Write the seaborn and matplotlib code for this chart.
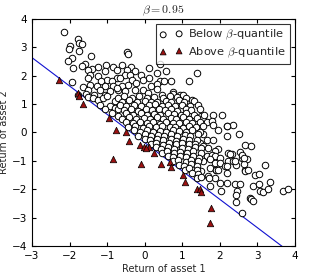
import matplotlib
matplotlib.use("Agg")
import matplotlib.pyplot as plt
import seaborn as sns
import numpy as np
import pandas as pd

# ---- data ----
below_x = [
    -2.14, -1.78, -1.74, -1.66, -2.00, -2.02, -1.76, -0.46, -0.44, -1.42,
    -1.94, -2.05, -1.59, -1.03, -0.61, 0.42, -1.90, -1.68, -1.24, -0.85,
    -0.37, -1.41, 0.11, -1.50, -1.06, -0.75, -0.48, -0.26, 0.33, 0.56,
    1.38, -1.46, -1.24, -1.50, -0.75, -0.53, -0.39, -0.10, -0.66, 0.11,
    -1.94, -1.00, -1.15, -0.88, -0.35, -0.04, 0.40, 0.52, 0.70, 1.18,
    -1.64, -1.46, -1.28, -1.06, -0.84, -0.22, -0.44, -0.61, 0.18, 0.33,
    -1.50, -1.19, -0.93, -0.70, -0.75, -0.26, -0.04, -0.53, 0.34, 0.74,
    -1.77, -1.56, -1.34, -1.06, 0.09, 0.45, 0.76, 0.94, 1.02,
    -1.50, -1.37, -1.24, -1.10, -1.01, -0.79, -0.70, 1.25,
    -1.19, -0.93, -0.79, -1.06, -0.70, -0.88, -0.70,
    1.51, 1.56, 1.58, 1.82, 2.07, 1.66, 1.78, 1.82, 2.20, 2.35, 2.19, 1.96,
    2.51, 2.18, 1.56, 1.65, 1.81, 1.47, 1.56, 1.69, 1.96, 1.87, 2.22, 2.31,
    2.66, 2.82, 2.53, 1.65, 1.78, 1.87, 2.00, 1.73, 1.56, 1.87, 2.00, 2.22,
    2.35, 2.58, 2.60, 2.71, 2.43, 2.13, 1.73, 1.91, 3.20, 1.51, 2.68,
    1.89, 2.18, 2.66, 2.93, 3.05, 1.69, 1.87, 2.00, 2.18, 1.73, 2.04, 2.40,
    2.53, 2.46, 2.44, 2.89, 3.05, 3.33, 3.06, 3.15, 3.29, 2.80, 2.84, 2.89,
    2.43, 2.58, 3.68, 3.82, 2.75, 1.72, 1.96, 2.18, 2.40, 2.65, 2.28, 2.65,
    # dense core
    -0.55, -0.33, -0.16, 0.06, 0.24, 0.49, 0.66, 0.86, 1.10,
    -0.61, -0.41, -0.21, 0.01, 0.16, 0.34, 0.56, 0.71, 0.91, 1.04, 1.31,
    -0.66, -0.49, -0.29, -0.11, 0.11, 0.27, 0.46, 0.61, 0.81, 0.99, 1.21, 1.41,
    -0.56, -0.37, -0.19, 0.03, 0.19, 0.39, 0.54, 0.71, 0.87, 1.09, 1.24, 1.46,
    -0.49, -0.31, -0.11, 0.07, 0.26, 0.41, 0.61, 0.77, 0.96, 1.11, 1.31,
    -0.61, -0.41, -0.23, -0.01, 0.14, 0.33, 0.49, 0.69, 0.84, 1.03, 1.19, 1.39,
    -0.51, -0.31, -0.13, 0.06, 0.21, 0.41, 0.57, 0.76, 0.91, 1.11, 1.27, 1.46,
    -0.44, -0.26, -0.04, 0.11, 0.31, 0.47, 0.66, 0.81, 1.01, 1.17, 1.36, 1.54,
    -0.29, -0.13, 0.06, 0.21, 0.41, 0.57, 0.76, 0.91, 1.11, 1.27, 1.46,
    -0.17, 0.01, 0.17, 0.36, 0.51, 0.71, 0.87, 1.06, 1.21, 1.41,
    0.01, 0.14, 0.33, 0.49, 0.69, 0.84, 1.03, 1.19, 1.39,
    0.16, 0.29, 0.49, 0.64, 0.83, 0.99, 1.19, 1.34,
    0.31, 0.44, 0.63, 0.79, 0.99, 1.14, 1.33, 1.49,
    0.46, 0.59, 0.79, 0.94, 1.13, 1.29, 1.49,
    0.61, 0.74, 0.93, 1.09, 1.29, 1.44,
    0.76, 0.89, 1.09, 1.24, 1.43,
    0.91, 1.04, 1.23, 1.39,
    1.06, 1.19, 1.39,
    1.26, 1.41,
    1.38, 1.50,
]
below_y = [
    3.53, 3.30, 3.17, 3.12, 3.05, 2.95, 2.88, 2.84, 2.77, 2.68,
    2.63, 2.53, 2.43, 2.39, 2.39, 2.40, 2.27, 2.33, 2.30, 2.30,
    2.30, 2.25, 2.27, 2.22, 2.16, 2.22, 2.22, 2.16, 2.10, 2.16,
    2.09, 2.04, 1.98, 1.92, 1.92, 2.04, 2.04, 2.04, 1.92, 1.92,
    1.79, 1.86, 1.80, 1.80, 1.86, 1.86, 1.81, 1.81, 1.81, 1.83,
    1.62, 1.69, 1.63, 1.63, 1.63, 1.75, 1.69, 1.63, 1.63, 1.72,
    1.48, 1.51, 1.45, 1.51, 1.57, 1.51, 1.51, 1.45, 1.55, 1.44,
    1.33, 1.35, 1.33, 1.31, 1.39, 1.33, 1.36, 1.31, 1.32,
    1.25, 1.22, 1.16, 1.22, 1.28, 1.10, 1.22, 1.15,
    0.98, 0.93, 0.87, 0.81, 0.81, 0.69, 0.57,
    0.57, 0.51, 0.60, 0.62, 0.63, 0.36, 0.40, 0.28, 0.22, 0.26, 0.24, 0.10,
    -0.05, -0.13, -0.07, -0.25, -0.25, -0.37, -0.48, -0.54, -0.60, -0.66, -0.74, -0.75,
    -0.43, -0.48, -0.69, -0.84, -0.78, -0.84, -0.89, -0.95, -1.01, -1.07, -1.07, -1.01,
    -1.01, -0.89, -0.81, -0.95, -1.13, -1.19, -1.25, -1.31, -1.13, -1.37, -1.33,
    -1.31, -1.42, -1.37, -1.50, -1.48, -1.54, -1.60, -1.77, -1.77, -1.89, -2.07, -1.83,
    -1.83, -2.07, -2.19, -1.89, -1.83, -1.74, -2.07, -2.09, -2.01, -2.30, -2.36, -2.40,
    -2.45, -2.83, -2.05, -1.99, -1.31, -1.59, -1.32, -1.17, -0.99, -1.12, -0.75, -0.90,
    # dense core
    1.27, 1.22, 1.28, 1.23, 1.26, 1.21, 1.27, 1.24, 1.22,
    1.08, 1.13, 1.07, 1.12, 1.09, 1.06, 1.12, 1.08, 1.13, 1.07, 1.10,
    0.97, 0.92, 0.98, 0.93, 0.96, 0.99, 0.93, 0.97, 0.92, 0.98, 0.94, 0.96,
    0.78, 0.83, 0.77, 0.82, 0.79, 0.84, 0.78, 0.81, 0.77, 0.83, 0.79, 0.82,
    0.67, 0.62, 0.68, 0.63, 0.66, 0.61, 0.67, 0.64, 0.62, 0.68, 0.63,
    0.48, 0.53, 0.47, 0.52, 0.49, 0.54, 0.48, 0.51, 0.47, 0.53, 0.49, 0.52,
    0.37, 0.32, 0.38, 0.33, 0.36, 0.31, 0.37, 0.34, 0.32, 0.38, 0.33, 0.36,
    0.18, 0.23, 0.17, 0.22, 0.19, 0.24, 0.18, 0.21, 0.17, 0.23, 0.19, 0.22,
    0.07, 0.02, 0.08, 0.03, 0.06, 0.01, 0.07, 0.04, 0.02, 0.08, 0.03,
    -0.12, -0.07, -0.13, -0.08, -0.11, -0.06, -0.12, -0.09, -0.13, -0.07,
    -0.23, -0.28, -0.22, -0.27, -0.24, -0.29, -0.23, -0.26, -0.28,
    -0.42, -0.37, -0.43, -0.38, -0.41, -0.36, -0.42, -0.39,
    -0.53, -0.58, -0.52, -0.57, -0.54, -0.59, -0.53, -0.56,
    -0.72, -0.67, -0.73, -0.68, -0.71, -0.66, -0.72,
    -0.83, -0.88, -0.82, -0.87, -0.84, -0.89,
    -1.02, -0.97, -1.03, -0.98, -1.01,
    -1.13, -1.18, -1.12, -1.17,
    -1.32, -1.27, -1.33,
    -1.43, -1.48,
    -1.62, -1.57,
]

above_x = [-2.29, -1.78, -1.75, -1.64, -0.95, -0.77, -0.49, -0.43, -0.85, -0.13,
           -0.02, 0.11, 0.26, -0.09, 0.44, 0.66, 0.71, 1.03, 1.06, 1.38,
           1.47, 1.50, 1.77, 1.73, 0.03]
above_y = [1.85, 1.38, 1.27, 1.00, 0.50, 0.10, 0.01, -0.30, -0.93, -0.44,
           -0.52, -0.50, -0.73, -1.11, -1.11, -1.05, -1.22, -1.49, -1.75, -2.00,
           -2.00, -2.10, -2.68, -3.19, -0.55]

# quantile line: y = line_slope * x + line_intercept
line_slope = -1.0
line_intercept = -0.36
line_x = [-3.0, 4.0]

title_text = r"$\beta=0.95$"
xlabel = "Return of asset 1"
ylabel = "Return of asset 2"
xticks = [-3, -2, -1, 0, 1, 2, 3, 4]
yticks = [-4, -3, -2, -1, 0, 1, 2, 3, 4]

# ---- style ----
sns.set_style("white")
plt.rcParams.update({
    "font.family": ["DejaVu Sans"],
    "mathtext.fontset": "cm",
    "axes.edgecolor": "black",
    "axes.linewidth": 0.8,
    "xtick.direction": "in",
    "ytick.direction": "in",
    "xtick.top": True,
    "ytick.right": True,
    "xtick.bottom": True,
    "ytick.left": True,
    "xtick.major.size": 3,
    "ytick.major.size": 3,
    "xtick.color": "black",
    "ytick.color": "black",
    "xtick.labelsize": 7.5,
    "ytick.labelsize": 7.5,
})

fig = plt.figure(figsize=(3.26, 2.72), dpi=100)
ax = fig.add_axes([0.098, 0.096, 0.807, 0.834])

df_below = pd.DataFrame({"x": below_x, "y": below_y})
df_above = pd.DataFrame({"x": above_x, "y": above_y})
lx = np.array(line_x)
df_line = pd.DataFrame({"x": lx, "y": line_slope * lx + line_intercept})

sns.lineplot(data=df_line, x="x", y="y", ax=ax, color="#1010d0", linewidth=0.8)
sns.scatterplot(data=df_below, x="x", y="y", ax=ax, marker="o", s=22,
                facecolor="white", edgecolor="black", linewidth=0.7,
                label=r"Below $\beta$-quantile", zorder=3)
sns.scatterplot(data=df_above, x="x", y="y", ax=ax, marker="^", s=22,
                color="#9b1111", edgecolor="black", linewidth=0.5,
                label=r"Above $\beta$-quantile", zorder=4)

ax.set_xlim(-3, 4)
ax.set_ylim(-4, 4)
ax.set_xticks(xticks)
ax.set_yticks(yticks)
ax.set_xticklabels([f"\u2212{abs(t)}" if t < 0 else str(t) for t in xticks])
ax.set_yticklabels([f"\u2212{abs(t)}" if t < 0 else str(t) for t in yticks])
ax.set_xlabel(xlabel, fontsize=7, labelpad=2)
ax.set_ylabel(ylabel, fontsize=7, labelpad=2)
ax.set_title(title_text, fontsize=8.5, pad=4)

leg = ax.legend(loc="upper right", scatterpoints=2, fontsize=8.2,
                frameon=True, fancybox=False, edgecolor="black",
                borderpad=0.35, handlelength=2.0, handletextpad=0.5,
                labelspacing=0.25, borderaxespad=0.45, markerscale=0.9)
leg.get_frame().set_linewidth(0.8)

fig.savefig("out.png", dpi=100)
